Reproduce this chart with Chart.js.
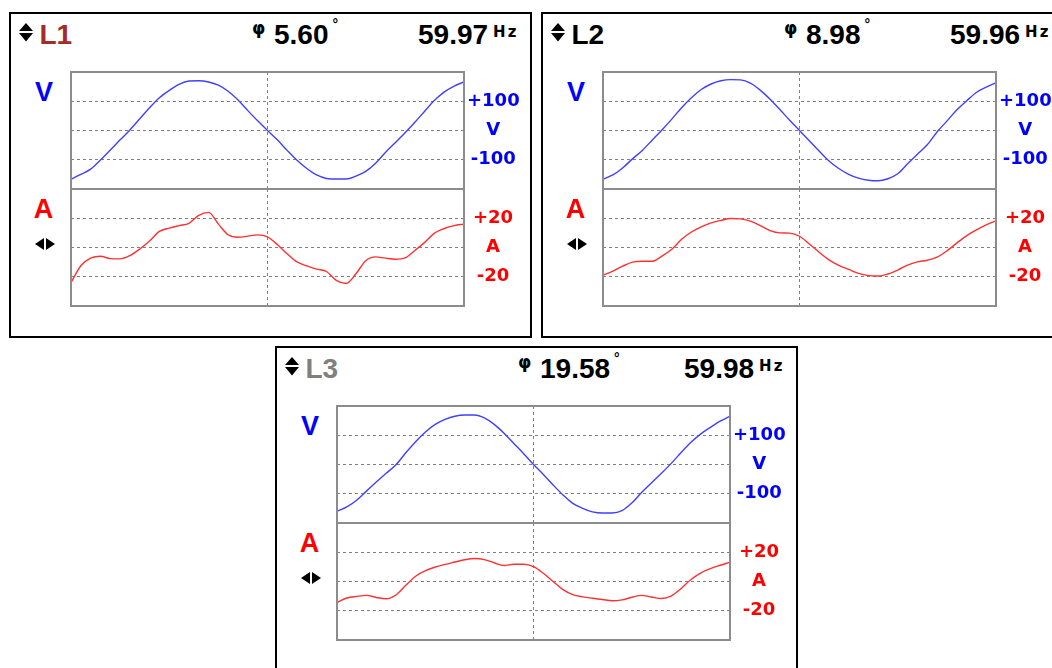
<!DOCTYPE html>
<html>
<head>
<meta charset="utf-8">
<script src="https://cdn.jsdelivr.net/npm/chart.js@4.4.1/dist/chart.umd.min.js"></script>
<style>
  html, body { margin: 0; padding: 0; background: #fff; width: 1052px; height: 668px; overflow: hidden; position: relative; }
  .abs { position: absolute; white-space: nowrap; line-height: 1; }
  .frame { position: absolute; box-sizing: border-box; border: 2px solid #000; width: 523px; height: 326px; }
  .big { font: bold 28px "Liberation Sans", Arial, sans-serif; color: #000; }
  .deg { font: bold 14px "Liberation Sans", Arial, sans-serif; position: relative; top: -15px; margin-left: 4px; }
  .hz { font: bold 15px "DejaVu Sans", sans-serif; position: relative; top: -7px; margin-left: 5px; letter-spacing: 2px; }
  .phi { font: bold 17px "DejaVu Sans", sans-serif; color: #000; }
  .side { font: bold 27px "Liberation Sans", Arial, sans-serif; width: 40px; text-align: center; }
  canvas { position: absolute; }
</style>
</head>
<body>
<script>
// Phase names, phase angle (degrees) and line frequency (Hz) for each panel
const phaseNames = ['L1', 'L2', 'L3'];
const phaseNameColors = ['#a52a2a', '#000000', '#808080'];
const phaseAngles = [5.60, 8.98, 19.58];
const frequencies = [59.97, 59.96, 59.98];

// Right-hand scale labels
const voltTickValues = [-100, 0, 100];
const voltTickLabels = ['-100', 'V', '+100'];
const ampTickValues = [-20, 0, 20];
const ampTickLabels = ['-20', 'A', '+20'];

// Sampled waveforms (41 samples across the trace window)
const l1Volt = [-166, -150, -132, -101, -67, -32, 2, 40, 78, 112, 137, 158, 169, 170, 166, 155, 134, 104, 68, 33,
                0, -32, -68, -102, -130, -152, -164, -166, -166, -156, -140, -112, -75, -42, -8, 28, 66, 103, 132, 152, 166];
const l1Amp = [-24, -12.5, -7.3, -6, -7.6, -7.8, -5.5, -1, 4.5, 11, 13.3, 15, 16.5, 22, 24, 16, 8.7, 7, 7.8, 8.6,
               7.2, 2, -4.3, -9.8, -12.6, -14.8, -16.4, -22.5, -24.6, -18, -9, -6.4, -7.3, -8, -7.1, -2, 3.5, 9.8, 13, 15, 16];
const l2Volt = [-166, -152, -128, -97, -68, -33, 2, 39, 78, 112, 140, 159, 170, 174, 173, 162, 138, 107, 72, 35,
                0, -35, -70, -104, -130, -150, -163, -170, -172, -165, -148, -114, -81, -49, -5, 32, 70, 101, 130, 148, 164];
const l2Amp = [-19, -16.2, -12.8, -10, -9.4, -9.4, -5.9, -1.2, 5.6, 10.6, 14.1, 16.8, 18.5, 19.8, 19.6, 18, 15, 11.6, 10, 9.8,
               7.7, 2.4, -3.2, -8.5, -12.3, -15, -17.7, -19.2, -19.5, -18.1, -15.4, -12, -9.8, -8.7, -6.6, -2.3, 3, 8, 12, 15.5, 18.2];
const l3Volt = [-160, -145, -122, -91, -60, -30, -1, 40, 78, 111, 137, 154, 165, 169, 169, 159, 137, 107, 72, 37,
                0, -34, -70, -104, -133, -150, -162, -166, -166, -158, -132, -96, -63, -31, 3, 40, 75, 104, 127, 148, 165];
const l3Amp = [-14.3, -11.3, -10.2, -9.5, -10.9, -11.8, -9.2, -2.6, 3.6, 7.4, 9.9, 11.7, 13.3, 14.9, 15.7, 15, 12.8, 10.9, 11.8, 11.8,
               10.1, 5.6, 0, -5.6, -9, -10.5, -11.5, -12.3, -13.2, -12.6, -10.8, -9.5, -10.6, -11.6, -10, -4.9, 1.2, 5.8, 8.8, 11.1, 13.2];

const voltSeries = [l1Volt, l2Volt, l3Volt];
const ampSeries = [l1Amp, l2Amp, l3Amp];

// Panel layout (frame top-left corners)
const panelOrigins = [[9, 12], [541, 12], [275, 346]];
const PLOT_X = 62, PLOT_Y = 60, PLOT_W = 393, TRACE_H = 117, AXIS_W = 70;
const GRID_GRAY = '#7f7f7f';
const VOLT_LINE = '#4040ff', AMP_LINE = '#ff3030';
const VOLT_TEXT = '#0000ff', AMP_TEXT = '#ff0000';

// Grey rectangle around each trace area
const plotFrame = {
  id: 'plotFrame',
  afterDraw(chart) {
    const { ctx, chartArea: a } = chart;
    ctx.save();
    ctx.strokeStyle = '#8c8c8c';
    ctx.lineWidth = 2;
    ctx.strokeRect(a.left, a.top, a.right - a.left, a.bottom - a.top);
    ctx.restore();
  }
};

function addText(x, y, html, cls, color) {
  const el = document.createElement('div');
  el.className = 'abs ' + cls;
  el.style.left = x + 'px';
  el.style.top = y + 'px';
  if (color) el.style.color = color;
  el.innerHTML = html;
  document.body.appendChild(el);
  return el;
}

function addSvg(x, y, w, h, inner) {
  const el = document.createElement('div');
  el.className = 'abs';
  el.style.left = x + 'px';
  el.style.top = y + 'px';
  el.innerHTML = `<svg width="${w}" height="${h}" viewBox="0 0 ${w} ${h}">${inner}</svg>`;
  document.body.appendChild(el);
}

function makeTrace(x, y, values, range, tickValues, tickLabels, lineColor, textColor, labelPad) {
  const canvas = document.createElement('canvas');
  canvas.width = 2 + PLOT_W + AXIS_W;
  canvas.height = 2 + TRACE_H + 2;
  canvas.style.left = (x - 2) + 'px';
  canvas.style.top = (y - 2) + 'px';
  document.body.appendChild(canvas);
  const mid = Math.floor(values.length / 2);
  return new Chart(canvas, {
    type: 'line',
    data: {
      labels: values.map((_, i) => i),
      datasets: [{
        data: values,
        borderColor: lineColor,
        borderWidth: 1.4,
        pointRadius: 0,
        fill: false,
        cubicInterpolationMode: 'monotone'
      }]
    },
    options: {
      responsive: false,
      animation: false,
      devicePixelRatio: 1,
      layout: { padding: { left: 2, top: 2, bottom: 2, right: 0 } },
      plugins: { legend: { display: false }, tooltip: { enabled: false } },
      scales: {
        x: {
          type: 'category',
          ticks: { display: false },
          grid: {
            drawTicks: false,
            lineWidth: 1,
            color: c => (c.index === mid ? GRID_GRAY : 'rgba(0,0,0,0)')
          },
          border: { display: false, dash: [3, 3] },
          afterFit: s => { s.height = 0; s.paddingLeft = 0; s.paddingRight = 0; }
        },
        y: {
          position: 'right',
          min: -range,
          max: range,
          ticks: {
            stepSize: range / 2,
            autoSkip: false,
            padding: labelPad,
            crossAlign: 'center',
            color: textColor,
            font: { family: 'DejaVu Sans', size: 18, weight: 'bold' },
            callback: v => {
              const i = tickValues.indexOf(v);
              return i >= 0 ? tickLabels[i] : null;
            }
          },
          grid: {
            drawTicks: false,
            lineWidth: 1,
            color: c => (c.tick && Math.abs(c.tick.value) < range ? GRID_GRAY : 'rgba(0,0,0,0)')
          },
          border: { display: false, dash: [3, 3] },
          // labels sit well inside the trace, so no edge padding is needed
          afterFit: s => { s.width = AXIS_W; s.paddingTop = 0; s.paddingBottom = 0; }
        }
      }
    },
    plugins: [plotFrame]
  });
}

phaseNames.forEach((name, p) => {
  const [ox, oy] = panelOrigins[p];

  const frame = document.createElement('div');
  frame.className = 'frame';
  frame.style.left = ox + 'px';
  frame.style.top = oy + 'px';
  document.body.appendChild(frame);

  // header row
  addSvg(ox + 10, oy + 11, 14, 19,
    '<polygon points="0,8 7,0 14,8" fill="#000"/><polygon points="0,10 14,10 7,18.5" fill="#000"/>');
  addText(ox + 30.5, oy + 7.3, name, 'big', phaseNameColors[p]);
  addText(ox + 243, oy + 6, '\u03c6', 'phi');
  addText(ox + 265, oy + 7.3, phaseAngles[p].toFixed(2) + '<span class="deg">\u00b0</span>', 'big');
  addText(ox + 409, oy + 7.3, frequencies[p].toFixed(2) + '<span class="hz">Hz</span>', 'big');

  // side captions
  addText(ox + 15, oy + 65.2, 'V', 'side', VOLT_TEXT);
  addText(ox + 14.4, oy + 181.9, 'A', 'side', AMP_TEXT);
  addSvg(ox + 25.5, oy + 225.5, 21, 13,
    '<polygon points="0,6 9,0 9,12" fill="#000"/><polygon points="11,0 20,6 11,12" fill="#000"/>');

  // traces
  const px = ox + PLOT_X, py = oy + PLOT_Y;
  makeTrace(px, py, voltSeries[p], 200, voltTickValues, voltTickLabels, VOLT_LINE, VOLT_TEXT, 3);
  makeTrace(px, py + TRACE_H, ampSeries[p], 40, ampTickValues, ampTickLabels, AMP_LINE, AMP_TEXT, 9);
});
</script>
</body>
</html>
